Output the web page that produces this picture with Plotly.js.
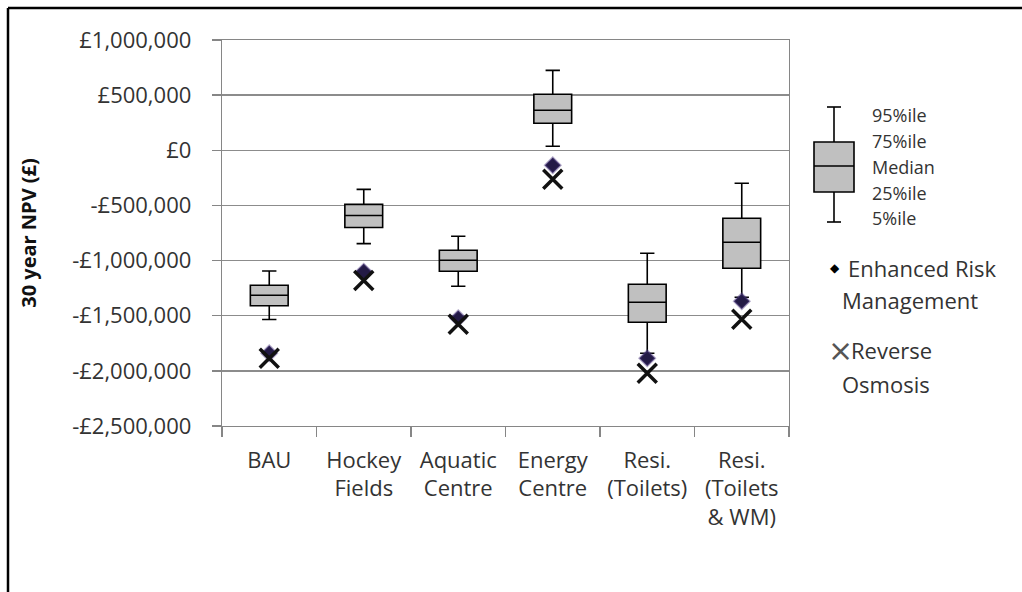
<!DOCTYPE html>
<html>
<head>
<meta charset="utf-8">
<script src="https://cdn.plot.ly/plotly-3.0.1.min.js"></script>
<style>
html,body{margin:0;padding:0;background:#fff;}
#chart{width:1022px;height:592px;}
</style>
</head>
<body>
<div id="chart"></div>
<script>
// ---- data ----
const categories = ["BAU", "Hockey<br>Fields", "Aquatic<br>Centre", "Energy<br>Centre", "Resi.<br>(Toilets)", "Resi.<br>(Toilets<br>& WM)"];
const p5     = [-1535000, -846000, -1233000,   36000, -1840000, -1333000];
const p25    = [-1410000, -700000, -1097000,  245000, -1559000, -1070000];
const median = [-1315000, -592000,  -997000,  363000, -1378000,  -834000];
const p75    = [-1224000, -490000,  -907000,  508000, -1215000,  -616000];
const p95    = [-1094000, -354000,  -780000,  725000,  -934000,  -299000];
const enhancedRiskMgmt = [-1840000, -1100000, -1523000, -136000, -1886000, -1369000];
const reverseOsmosis   = [-1886000, -1180000, -1578000, -263000, -2022000, -1532000];
const yTickVals = [1000000, 500000, 0, -500000, -1000000, -1500000, -2000000, -2500000];
const yTickText = ["£1,000,000", "£500,000", "£0", "-£500,000", "-£1,000,000", "-£1,500,000", "-£2,000,000", "-£2,500,000"];
const legendBoxLabels = ["95%ile", "75%ile", "Median", "25%ile", "5%ile"];

// ---- layout helpers (pixel -> paper for decorations) ----
const L = 222, R = 789, T = 40, B = 426, W = 1022, H = 592;
const px = x => (x - L) / (R - L);
const py = y => (B - y) / (B - T);
const FONT = "Open Sans, Noto Sans, sans-serif";
const TXT = "#333333";

const traces = [
  {
    type: "box",
    x: categories,
    lowerfence: p5, q1: p25, median: median, q3: p75, upperfence: p95,
    boxpoints: false,
    width: 0.4,
    whiskerwidth: 0.38,
    fillcolor: "#c0c0c0",
    line: {color: "#000000", width: 1.6},
    hoverinfo: "y",
    showlegend: false
  },
  {
    type: "scatter", mode: "markers",
    x: categories, y: enhancedRiskMgmt,
    name: "Enhanced Risk Management",
    marker: {symbol: "diamond", size: 12, color: "#231a45", line: {color: "rgba(80,60,130,0.45)", width: 2}},
    showlegend: false
  },
  {
    type: "scatter", mode: "markers",
    x: categories, y: reverseOsmosis,
    name: "Reverse Osmosis",
    marker: {symbol: "x-thin", size: 19, color: "#000000", line: {color: "#111111", width: 3.5}},
    showlegend: false
  }
];

const shapes = [];
const annotations = [];
// outer frame (left and top edges)
shapes.push({type: "line", xref: "paper", yref: "paper", x0: px(8), x1: px(8), y0: py(8), y1: py(H + 5), line: {color: "#000", width: 2.5}});
shapes.push({type: "line", xref: "paper", yref: "paper", x0: px(8), x1: px(W + 5), y0: py(8), y1: py(8), line: {color: "#000", width: 2.5}});

// legend: box icon
const cx = 834, bx0 = 814, bx1 = 854;
const lw = {color: "#000", width: 1.6};
shapes.push({type: "line", xref: "paper", yref: "paper", x0: px(cx), x1: px(cx), y0: py(107), y1: py(142), line: lw});
shapes.push({type: "line", xref: "paper", yref: "paper", x0: px(cx), x1: px(cx), y0: py(192), y1: py(222), line: lw});
shapes.push({type: "line", xref: "paper", yref: "paper", x0: px(827), x1: px(841), y0: py(107), y1: py(107), line: lw});
shapes.push({type: "line", xref: "paper", yref: "paper", x0: px(827), x1: px(841), y0: py(222), y1: py(222), line: lw});
shapes.push({type: "rect", xref: "paper", yref: "paper", x0: px(bx0), x1: px(bx1), y0: py(192), y1: py(142), fillcolor: "#c0c0c0", line: lw});
shapes.push({type: "line", xref: "paper", yref: "paper", x0: px(bx0), x1: px(bx1), y0: py(166), y1: py(166), line: lw});
const labY = [115, 141, 167, 193, 218];
legendBoxLabels.forEach((t, i) => {
  annotations.push({xref: "paper", yref: "paper", x: px(870), y: py(labY[i]), xanchor: "left", yanchor: "middle",
    text: t, showarrow: false, font: {family: FONT, size: 18, color: TXT}});
});
// legend: markers
annotations.push({xref: "paper", yref: "paper", x: px(835), y: py(268), xanchor: "center", yanchor: "middle",
  text: "◆", showarrow: false, font: {family: "DejaVu Sans", size: 12, color: "#000"}});
annotations.push({xref: "paper", yref: "paper", x: px(846), y: py(268), xanchor: "left", yanchor: "middle",
  text: "Enhanced Risk", showarrow: false, font: {family: FONT, size: 22, color: TXT}});
annotations.push({xref: "paper", yref: "paper", x: px(840), y: py(300), xanchor: "left", yanchor: "middle",
  text: "Management", showarrow: false, font: {family: FONT, size: 22, color: TXT}});
annotations.push({xref: "paper", yref: "paper", x: px(840), y: py(350), xanchor: "center", yanchor: "middle",
  text: "×", showarrow: false, font: {family: "DejaVu Sans", size: 30, color: "#555"}});
annotations.push({xref: "paper", yref: "paper", x: px(849), y: py(350), xanchor: "left", yanchor: "middle",
  text: "Reverse", showarrow: false, font: {family: FONT, size: 22, color: TXT}});
annotations.push({xref: "paper", yref: "paper", x: px(840), y: py(384), xanchor: "left", yanchor: "middle",
  text: "Osmosis", showarrow: false, font: {family: FONT, size: 22, color: TXT}});

const layout = {
  width: W, height: H,
  margin: {l: L, r: W - R, t: T, b: H - B, pad: 0},
  paper_bgcolor: "#ffffff", plot_bgcolor: "#ffffff",
  showlegend: false,
  font: {family: FONT, color: TXT},
  xaxis: {
    type: "category",
    showgrid: false,
    showline: true, linecolor: "#868686", linewidth: 1.3, mirror: true,
    ticks: "outside", tickson: "boundaries", ticklen: 10, tickcolor: "#868686", tickwidth: 1.3,
    tickfont: {family: FONT, size: 22, color: TXT},
    ticklabelstandoff: 14,
    zeroline: false
  },
  yaxis: {
    range: [-2500000, 1000000],
    tickvals: yTickVals, ticktext: yTickText,
    showgrid: true, gridcolor: "#8c8c8c", gridwidth: 1.3,
    showline: true, linecolor: "#868686", linewidth: 1.3, mirror: true,
    ticks: "outside", ticklen: 9, tickcolor: "#868686", tickwidth: 1.3,
    tickfont: {family: FONT, size: 22, color: TXT},
    ticklabelstandoff: 16,
    zeroline: false,
    title: {text: "30 year NPV (£)", font: {family: FONT, size: 20, color: "#111", weight: "bold"}, standoff: 30}
  },
  shapes: shapes,
  annotations: annotations
};

Plotly.newPlot("chart", traces, layout, {displayModeBar: false, staticPlot: true});
</script>
</body>
</html>
